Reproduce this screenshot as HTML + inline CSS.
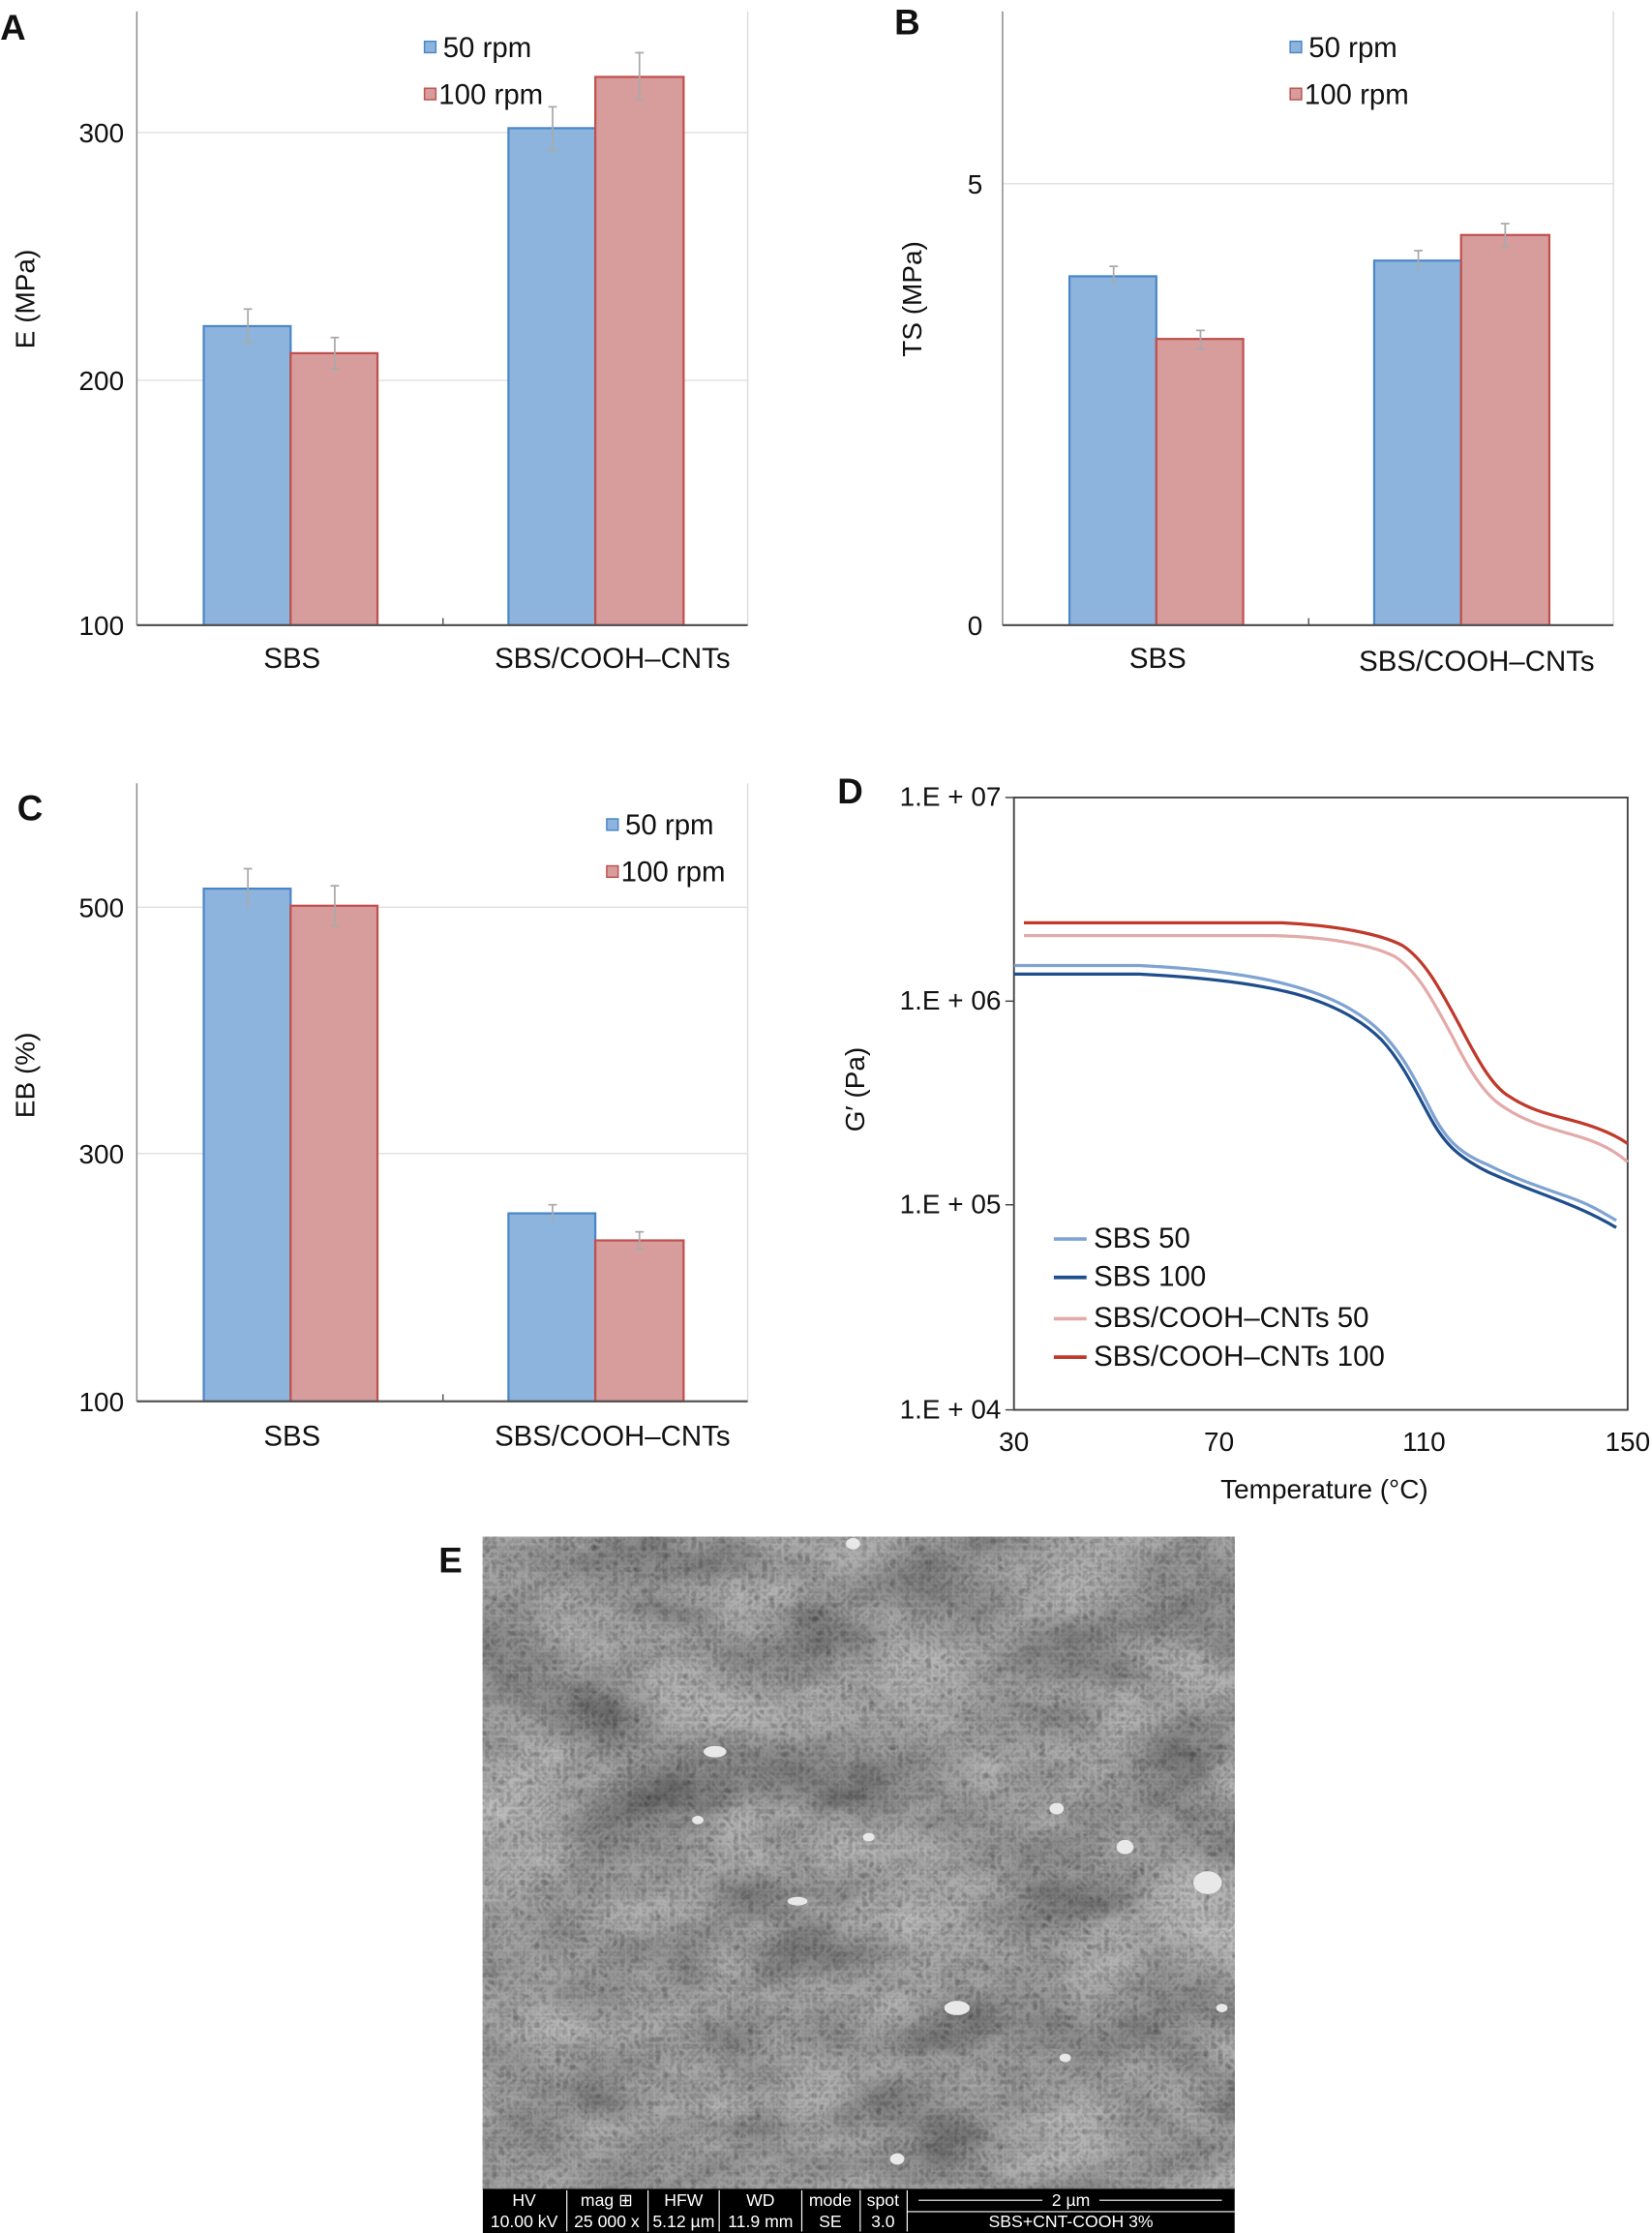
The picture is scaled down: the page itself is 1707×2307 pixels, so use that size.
<!DOCTYPE html>
<html><head><meta charset="utf-8"><style>
html,body{margin:0;padding:0;background:#fff}
svg{display:block}
text{font-family:"Liberation Sans",Arial,sans-serif;fill:#111}
</style></head><body>
<svg width="1707" height="2307" viewBox="0 0 1160 1568" xmlns="http://www.w3.org/2000/svg">
<defs>
<filter id="tex" x="0" y="0" width="100%" height="100%">
<feTurbulence type="fractalNoise" baseFrequency="0.01 0.018" numOctaves="4" seed="7" result="n"/>
<feColorMatrix type="matrix" values="0.33 0.33 0.33 0 0  0.33 0.33 0.33 0 0  0.33 0.33 0.33 0 0  0 0 0 0 1" in="n" result="g"/>
<feComponentTransfer in="g"><feFuncR type="linear" slope="1.3" intercept="-0.25"/><feFuncG type="linear" slope="1.3" intercept="-0.25"/><feFuncB type="linear" slope="1.3" intercept="-0.25"/></feComponentTransfer>
</filter>
<filter id="fine" x="0" y="0" width="100%" height="100%">
<feTurbulence type="turbulence" baseFrequency="0.2" numOctaves="2" seed="3"/>
<feColorMatrix type="matrix" values="0 0 0 0 0  0 0 0 0 0  0 0 0 0 0  0.25 0.25 0.25 0 -0.12"/>
</filter>
</defs>

<!-- ============ Panel A ============ -->
<text x="0" y="28" font-size="25" font-weight="bold">A</text>
<g stroke="#e2e2e2" stroke-width="1">
<line x1="96" y1="93" x2="525" y2="93"/><line x1="96" y1="267" x2="525" y2="267"/>
</g>
<line x1="525" y1="8" x2="525" y2="439" stroke="#ddd"/>
<line x1="96" y1="8" x2="96" y2="439" stroke="#888"/>
<rect x="143" y="229" width="61" height="210" fill="#8db4dc" stroke="#4a86c8" stroke-width="1.5"/>
<rect x="204" y="248" width="61" height="191" fill="#d79c9c" stroke="#c0504d" stroke-width="1.5"/>
<rect x="357" y="90" width="61" height="349" fill="#8db4dc" stroke="#4a86c8" stroke-width="1.5"/>
<rect x="418" y="54" width="62" height="385" fill="#d79c9c" stroke="#c0504d" stroke-width="1.5"/>
<g stroke="#aaa" stroke-width="1.2">
<line x1="174" y1="217" x2="174" y2="241"/><line x1="171" y1="217" x2="177" y2="217"/><line x1="171" y1="241" x2="177" y2="241"/>
<line x1="235" y1="237" x2="235" y2="259"/><line x1="232" y1="237" x2="238" y2="237"/><line x1="232" y1="259" x2="238" y2="259"/>
<line x1="388" y1="75" x2="388" y2="106"/><line x1="385" y1="75" x2="391" y2="75"/><line x1="385" y1="106" x2="391" y2="106"/>
<line x1="449" y1="37" x2="449" y2="70"/><line x1="446" y1="37" x2="452" y2="37"/><line x1="446" y1="70" x2="452" y2="70"/>
</g>
<line x1="96" y1="439" x2="525" y2="439" stroke="#555" stroke-width="1.5"/>
<line x1="311" y1="434" x2="311" y2="439" stroke="#555"/>
<g font-size="19" text-anchor="end"><text x="87" y="100">300</text><text x="87" y="274">200</text><text x="87" y="446">100</text></g>
<g font-size="20" text-anchor="middle"><text x="205" y="469">SBS</text><text x="430" y="469">SBS/COOH–CNTs</text></g>
<text transform="translate(24,210) rotate(-90)" font-size="19" text-anchor="middle">E (MPa)</text>
<rect x="298" y="29" width="8" height="8" fill="#8db4dc" stroke="#4a86c8"/>
<rect x="298" y="62" width="8" height="8" fill="#d79c9c" stroke="#c0504d"/>
<text x="311" y="40" font-size="20">50 rpm</text><text x="308" y="73" font-size="20">100 rpm</text>

<!-- ============ Panel B ============ -->
<text x="628" y="24" font-size="25" font-weight="bold">B</text>
<line x1="704" y1="129" x2="1133" y2="129" stroke="#e2e2e2"/>
<line x1="1133" y1="8" x2="1133" y2="439" stroke="#ddd"/>
<line x1="704" y1="8" x2="704" y2="439" stroke="#888"/>
<rect x="751" y="194" width="61" height="245" fill="#8db4dc" stroke="#4a86c8" stroke-width="1.5"/>
<rect x="812" y="238" width="61" height="201" fill="#d79c9c" stroke="#c0504d" stroke-width="1.5"/>
<rect x="965" y="183" width="61" height="256" fill="#8db4dc" stroke="#4a86c8" stroke-width="1.5"/>
<rect x="1026" y="165" width="62" height="274" fill="#d79c9c" stroke="#c0504d" stroke-width="1.5"/>
<g stroke="#aaa" stroke-width="1.2">
<line x1="782" y1="187" x2="782" y2="200"/><line x1="779" y1="187" x2="785" y2="187"/>
<line x1="843" y1="232" x2="843" y2="245"/><line x1="840" y1="232" x2="846" y2="232"/><line x1="840" y1="245" x2="846" y2="245"/>
<line x1="996" y1="176" x2="996" y2="190"/><line x1="993" y1="176" x2="999" y2="176"/>
<line x1="1057" y1="157" x2="1057" y2="173"/><line x1="1054" y1="157" x2="1060" y2="157"/><line x1="1054" y1="173" x2="1060" y2="173"/>
</g>
<line x1="704" y1="439" x2="1133" y2="439" stroke="#555" stroke-width="1.5"/>
<line x1="919" y1="434" x2="919" y2="439" stroke="#555"/>
<g font-size="19" text-anchor="end"><text x="690" y="136">5</text><text x="690" y="446">0</text></g>
<g font-size="20" text-anchor="middle"><text x="813" y="469">SBS</text><text x="1037" y="471">SBS/COOH–CNTs</text></g>
<text transform="translate(647,210) rotate(-90)" font-size="19" text-anchor="middle">TS (MPa)</text>
<rect x="906" y="29" width="8" height="8" fill="#8db4dc" stroke="#4a86c8"/>
<rect x="906" y="62" width="8" height="8" fill="#d79c9c" stroke="#c0504d"/>
<text x="919" y="40" font-size="20">50 rpm</text><text x="916" y="73" font-size="20">100 rpm</text>

<!-- ============ Panel C ============ -->
<text x="12" y="576" font-size="25" font-weight="bold">C</text>
<g stroke="#e2e2e2"><line x1="96" y1="637" x2="525" y2="637"/><line x1="96" y1="810" x2="525" y2="810"/></g>
<line x1="525" y1="550" x2="525" y2="984" stroke="#ddd"/>
<line x1="96" y1="550" x2="96" y2="984" stroke="#888"/>
<rect x="143" y="624" width="61" height="360" fill="#8db4dc" stroke="#4a86c8" stroke-width="1.5"/>
<rect x="204" y="636" width="61" height="348" fill="#d79c9c" stroke="#c0504d" stroke-width="1.5"/>
<rect x="357" y="852" width="61" height="132" fill="#8db4dc" stroke="#4a86c8" stroke-width="1.5"/>
<rect x="418" y="871" width="62" height="113" fill="#d79c9c" stroke="#c0504d" stroke-width="1.5"/>
<g stroke="#aaa" stroke-width="1.2">
<line x1="174" y1="610" x2="174" y2="638"/><line x1="171" y1="610" x2="177" y2="610"/>
<line x1="235" y1="622" x2="235" y2="650"/><line x1="232" y1="622" x2="238" y2="622"/><line x1="232" y1="650" x2="238" y2="650"/>
<line x1="388" y1="846" x2="388" y2="858"/><line x1="385" y1="846" x2="391" y2="846"/>
<line x1="449" y1="865" x2="449" y2="877"/><line x1="446" y1="865" x2="452" y2="865"/><line x1="446" y1="877" x2="452" y2="877"/>
</g>
<line x1="96" y1="984" x2="525" y2="984" stroke="#555" stroke-width="1.5"/>
<line x1="311" y1="979" x2="311" y2="984" stroke="#555"/>
<g font-size="19" text-anchor="end"><text x="87" y="644">500</text><text x="87" y="817">300</text><text x="87" y="991">100</text></g>
<g font-size="20" text-anchor="middle"><text x="205" y="1015">SBS</text><text x="430" y="1015">SBS/COOH–CNTs</text></g>
<text transform="translate(24,755) rotate(-90)" font-size="19" text-anchor="middle">EB (%)</text>
<rect x="426" y="575" width="8" height="8" fill="#8db4dc" stroke="#4a86c8"/>
<rect x="426" y="608" width="8" height="8" fill="#d79c9c" stroke="#c0504d"/>
<text x="439" y="586" font-size="20">50 rpm</text><text x="436" y="619" font-size="20">100 rpm</text>

<!-- ============ Panel D ============ -->
<text x="588" y="564" font-size="25" font-weight="bold">D</text>
<rect x="712" y="560" width="431" height="430" fill="none" stroke="#444" stroke-width="1.3"/>
<g stroke="#444"><line x1="706" y1="560" x2="712" y2="560"/><line x1="706" y1="703" x2="712" y2="703"/><line x1="706" y1="846" x2="712" y2="846"/><line x1="706" y1="990" x2="712" y2="990"/></g>
<g font-size="19" text-anchor="end"><text x="703" y="566">1.E + 07</text><text x="703" y="709">1.E + 06</text><text x="703" y="852">1.E + 05</text><text x="703" y="996">1.E + 04</text></g>
<g font-size="19" text-anchor="middle"><text x="712" y="1019">30</text><text x="856" y="1019">70</text><text x="1000" y="1019">110</text><text x="1143" y="1019">150</text></g>
<text x="930" y="1052" font-size="19" text-anchor="middle">Temperature (°C)</text>
<text transform="translate(607,765) rotate(-90)" font-size="19" text-anchor="middle">G′ (Pa)</text>
<g fill="none" stroke-width="2.2">
<path d="M719,648 L900,648 C940,650 970,656 985,664 C1000,674 1010,692 1025,720 C1038,745 1048,763 1060,770 C1075,780 1090,783 1105,787 C1120,791 1133,796 1143,803" stroke="#c0392b"/>
<path d="M719,657 L895,657 C935,658 965,664 980,672 C995,682 1005,700 1020,728 C1032,752 1043,770 1057,778 C1072,788 1088,792 1105,797 C1120,801 1133,807 1143,816" stroke="#e3aaaa"/>
<path d="M712,678 L800,678 C840,680 880,684 910,693 C935,700 955,710 970,725 C985,740 995,760 1005,780 C1015,800 1025,810 1045,818 C1065,828 1080,833 1100,840 C1115,845 1125,851 1135,857" stroke="#7fa3d3"/>
<path d="M712,684 L800,684 C840,686 880,690 910,698 C935,705 955,715 970,730 C985,746 995,768 1005,786 C1015,804 1025,813 1045,823 C1065,832 1080,837 1100,845 C1115,851 1125,856 1135,862" stroke="#1f4e8c"/>
</g>
<g stroke-width="2.5">
<line x1="740" y1="870" x2="763" y2="870" stroke="#7fa3d3"/>
<line x1="740" y1="897" x2="763" y2="897" stroke="#1f4e8c"/>
<line x1="740" y1="926" x2="763" y2="926" stroke="#e3aaaa"/>
<line x1="740" y1="953" x2="763" y2="953" stroke="#c0392b"/>
</g>
<g font-size="20"><text x="768" y="876">SBS 50</text><text x="768" y="903">SBS 100</text><text x="768" y="932">SBS/COOH–CNTs 50</text><text x="768" y="959">SBS/COOH–CNTs 100</text></g>

<!-- ============ Panel E ============ -->
<text x="308" y="1104" font-size="25" font-weight="bold">E</text>
<rect x="339" y="1079" width="528" height="459" fill="#6e6e6e"/>
<rect x="339" y="1079" width="528" height="459" filter="url(#tex)" opacity="0.8"/>
<rect x="339" y="1079" width="528" height="459" filter="url(#fine)"/>
<g fill="#e8e8e8">
<ellipse cx="502" cy="1230" rx="8" ry="4"/><ellipse cx="848" cy="1322" rx="10" ry="8"/><ellipse cx="790" cy="1297" rx="6" ry="5"/>
<ellipse cx="599" cy="1084" rx="5" ry="4"/><ellipse cx="742" cy="1270" rx="5" ry="4"/><ellipse cx="672" cy="1410" rx="9" ry="5"/>
<ellipse cx="560" cy="1335" rx="7" ry="3"/><ellipse cx="858" cy="1410" rx="4" ry="3"/><ellipse cx="748" cy="1445" rx="4" ry="3"/>
<ellipse cx="490" cy="1278" rx="4" ry="3"/><ellipse cx="610" cy="1290" rx="4" ry="3"/><ellipse cx="630" cy="1516" rx="5" ry="4"/>
</g>
<rect x="339" y="1537" width="528" height="31" fill="#000"/>
<g stroke="#fff" stroke-width="0.8" fill="none">
<line x1="398" y1="1538" x2="398" y2="1567"/><line x1="455" y1="1538" x2="455" y2="1567"/><line x1="505" y1="1538" x2="505" y2="1567"/>
<line x1="563" y1="1538" x2="563" y2="1567"/><line x1="604" y1="1538" x2="604" y2="1567"/><line x1="637" y1="1538" x2="637" y2="1567"/>
<line x1="637" y1="1553" x2="867" y2="1553"/>
<line x1="645" y1="1545" x2="732" y2="1545"/><line x1="772" y1="1545" x2="858" y2="1545"/>
</g>
<g font-size="12" text-anchor="middle">
<text x="368" y="1549" style="fill:#fff">HV</text><text x="368" y="1564" style="fill:#fff">10.00 kV</text>
<text x="426" y="1549" style="fill:#fff">mag ⊞</text><text x="426" y="1564" style="fill:#fff">25 000 x</text>
<text x="480" y="1549" style="fill:#fff">HFW</text><text x="480" y="1564" style="fill:#fff">5.12 µm</text>
<text x="534" y="1549" style="fill:#fff">WD</text><text x="534" y="1564" style="fill:#fff">11.9 mm</text>
<text x="583" y="1549" style="fill:#fff">mode</text><text x="583" y="1564" style="fill:#fff">SE</text>
<text x="620" y="1549" style="fill:#fff">spot</text><text x="620" y="1564" style="fill:#fff">3.0</text>
<text x="752" y="1549" style="fill:#fff">2 µm</text><text x="752" y="1564" style="fill:#fff">SBS+CNT-COOH 3%</text>
</g>
</svg>
</body></html>
